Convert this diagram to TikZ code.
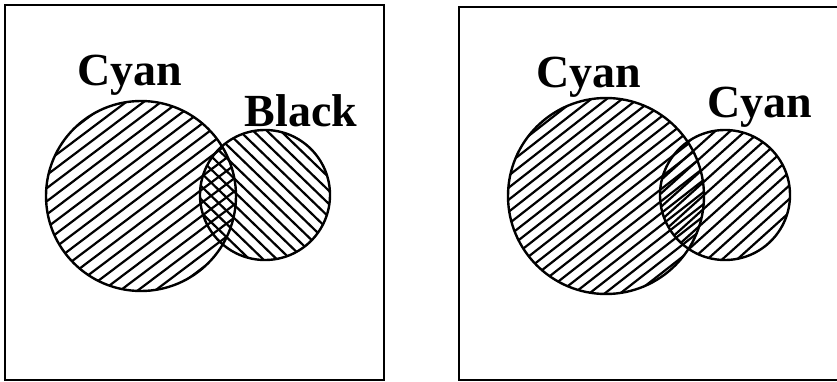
\documentclass[tikz,border=0pt]{standalone}
\usepackage{fontspec}
\setmainfont{Liberation Serif}
\usepackage{tikz}
\usetikzlibrary{positioning}

\begin{document}
\begin{tikzpicture}[x=1pt, y=-1pt,
    frame/.style={line width=1.5pt},
    ring/.style={line width=2.4pt},
    hatch/.style={line width=2.2pt},
    lab/.style={font=\bfseries\fontsize{46}{46}\selectfont, inner sep=0pt, anchor=base}]
        \useasboundingbox (0,0) rectangle (837,382);

        % Frames
        \draw[frame] (5,5) rectangle (384,380);
        \draw[frame] (459,7) rectangle (850,380);

        % Left: hatching
        \begin{scope}
            \clip (141,196) circle (95pt);
            \begin{scope}[shift={(141,196)}, rotate=37]
                \foreach \k in {-10,...,10}
                    \draw[hatch] (-110pt,{\k*10.5pt}) -- (110pt,{\k*10.5pt});
            \end{scope}
        \end{scope}
        \begin{scope}
            \clip (265,195) circle (65pt);
            \begin{scope}[shift={(265,195)}, rotate=-44]
                \foreach \k in {-7,...,7}
                    \draw[hatch] (-80pt,{\k*9.5pt}) -- (80pt,{\k*9.5pt});
            \end{scope}
        \end{scope}

        % Left: circles
        \draw[ring] (141,196) circle (95pt);
        \draw[ring] (265,195) circle (65pt);

        % Right: hatching
        \begin{scope}
            \clip (606,196) circle (98pt);
            \begin{scope}[shift={(606,196)}, rotate=38]
                \foreach \k in {-11,...,11}
                    \draw[hatch] (-115pt,{\k*9.5pt}) -- (115pt,{\k*9.5pt});
            \end{scope}
        \end{scope}
        \begin{scope}
            \clip (725,195) circle (65pt);
            \begin{scope}[shift={(725,195)}, rotate=42]
                \foreach \k in {-7,...,7}
                    \draw[hatch] (-80pt,{\k*10pt+4pt}) -- (80pt,{\k*10pt+4pt});
            \end{scope}
        \end{scope}

        % Right: circles
        \draw[ring] (606,196) circle (98pt);
        \draw[ring] (725,195) circle (65pt);

        % Labels
        \node[lab] (cyanL) at (130,86) {Cyan};
        \node[lab] (blackL) at (301,127) {Black};
        \node[lab] (cyanR) at (589,88) {Cyan};
        \node[lab] (cyanS) at (760,118) {Cyan};

    \end{tikzpicture}
\end{document}
